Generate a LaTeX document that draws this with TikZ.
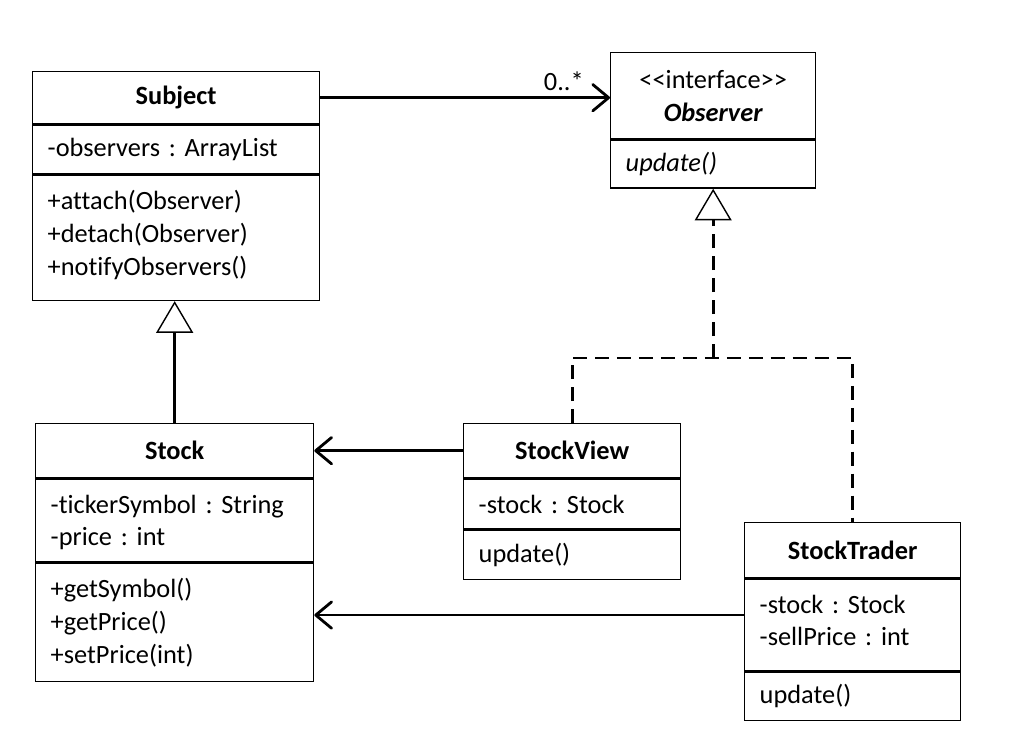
\documentclass[tikz,border=0pt]{standalone}
\usepackage{fontspec}
\newfontfamily\umlfont[Ligatures=NoCommon]{Carlito}
\usetikzlibrary{arrows.meta,positioning}
\frenchspacing

\tikzset{
  part/.style={draw, line width=0.8pt, anchor=north west, inner xsep=0.3cm, inner ysep=0pt,
    align=left, font=\umlfont\fontsize{15}{18.7}\selectfont},
  head/.style={part, align=center, font=\umlfont\bfseries\fontsize{15}{18.7}\selectfont},
  toppart/.style={part, text height=0.68cm},
  assoc/.style={line width=1.6pt, -{Straight Barb[length=9pt,width=15pt,round]}},
  inherit/.style={line width=1.6pt, -{Triangle[open,length=18pt,width=21pt,line width=0.8pt]}},
  dashline/.style={line width=1.6pt, dash pattern=on 8pt off 4.5pt},
  realize/.style={inherit, dashline},
}

\begin{document}
\begin{tikzpicture}[x=0.02cm, y=-0.02cm]
            \useasboundingbox (0,0) rectangle (1011,739);
            \node [head, minimum width=5.74cm, minimum height=1.04cm] (subjhead) at (32,71) {Subject};
            \node [part, text width=5.14cm, minimum height=0.98cm] (subjattr) at (subjhead.south west) {-observers : ArrayList};
            \node [toppart, text width=5.14cm, text depth=1.82cm] (subjops) at (subjattr.south west) {+attach(Observer)\\+detach(Observer)\\+notifyObservers()};
            \node [head, minimum width=4.1cm, minimum height=1.72cm] (obshead) at (610,52) {\mdseries<{}<interface>{}>\\\itshape Observer};
            \node [part, text width=3.5cm, minimum height=0.96cm] (obsops) at (obshead.south west) {\itshape update()};
            \node [head, minimum width=5.56cm, minimum height=1.08cm] (stockhead) at (35,423) {Stock};
            \node [toppart, text width=4.96cm, text depth=0.98cm] (stockattr) at (stockhead.south west) {-tickerSymbol : String\\-price : int};
            \node [toppart, text width=4.96cm, text depth=1.68cm] (stockops) at (stockattr.south west) {+getSymbol()\\+getPrice()\\+setPrice(int)};
            \node [head, minimum width=4.34cm, minimum height=1.08cm] (sviewhead) at (463,423) {StockView};
            \node [part, text width=3.74cm, minimum height=1.0cm] (sviewattr) at (sviewhead.south west) {-stock : Stock};
            \node [part, text width=3.74cm, minimum height=0.98cm] (sviewops) at (sviewattr.south west) {update()};
            \node [head, minimum width=4.32cm, minimum height=1.1cm] (tradehead) at (744,522) {StockTrader};
            \node [toppart, text width=3.72cm, text depth=1.16cm] (tradeattr) at (tradehead.south west) {-stock : Stock\\-sellPrice : int};
            \node [part, text width=3.72cm, minimum height=0.96cm] (tradeops) at (tradeattr.south west) {update()};
            \draw [assoc] (subjhead.east) -- (subjhead.east -| obshead.west)
                node [pos=1, above left, xshift=-0.38cm, font=\umlfont\fontsize{15}{18.7}\selectfont] (mult) {0..*};
            \draw [inherit] (stockhead.north) -- (stockhead.north |- subjops.south);
            \draw [assoc] (sviewhead.west) -- (stockhead.east);
            \coordinate (trlink) at ([yshift=0.2cm]tradeattr.west);
            \draw [assoc] (trlink) -- (trlink -| stockops.east);
            \coordinate (join) at (obsops.south |- 0,358);
            \draw [dashline] (sviewhead.north) |- (join) -| (tradehead.north);
            \draw [realize] (join) -- (obsops.south);
        \end{tikzpicture}
\end{document}
